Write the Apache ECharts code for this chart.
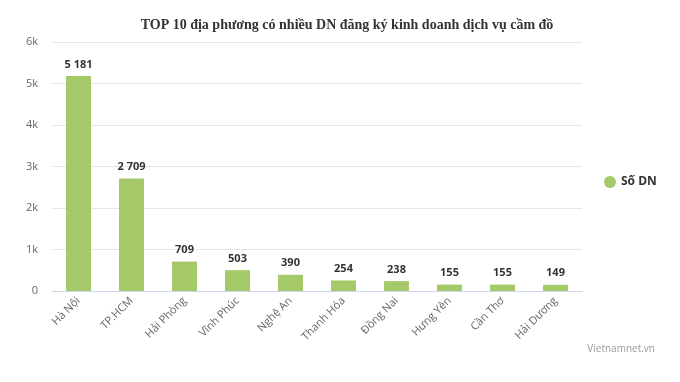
<!DOCTYPE html>
<html><head><meta charset="utf-8">
<script src="https://cdn.jsdelivr.net/npm/echarts@6/dist/echarts.min.js"></script>
<style>html,body{margin:0;padding:0;background:#fff}#c{width:680px;height:382px}</style>
</head><body><div id="c"></div>
<script>
const categories = ["Hà Nội","TP.HCM","Hải Phòng","Vĩnh Phúc","Nghệ An","Thanh Hóa","Đồng Nai","Hưng Yên","Cần Thơ","Hải Dương"];
const values = [5181,2709,709,503,390,254,238,155,155,149];
const seriesName = "Số DN";
const yTicks = ["0","1k","2k","3k","4k","5k","6k"];
const titleText = "TOP 10 địa phương có nhiều DN đăng ký kinh doanh dịch vụ cầm đồ";
const credit = "Vietnamnet.vn";

const fmt = v => String(v).replace(/\B(?=(\d{3})+(?!\d))/g, " ");
const chart = echarts.init(document.getElementById('c'), null, {renderer:'canvas'});
chart.setOption({
  animation:false,
  title:{text:titleText,left:342,textAlign:'center',top:13,
    textStyle:{fontFamily:'Liberation Serif',fontWeight:'bold',fontSize:14,color:'#333'}},
  graphic:[{type:'text',right:25,top:344,style:{text:credit,fill:'#999',fontSize:10,fontFamily:'Open Sans'}}],
  legend:{orient:'vertical',left:599,top:171,icon:'circle',itemWidth:12,itemHeight:12,itemGap:8,
    textStyle:{fontFamily:'Open Sans',fontSize:12,fontWeight:'bold',color:'#333'}},
  grid:{left:52,right:98,top:42,bottom:91,containLabel:false},
  xAxis:{type:'category',data:categories,
    axisLine:{lineStyle:{color:'#ccd6eb'}},axisTick:{show:false},
    axisLabel:{rotate:45,interval:0,color:'#666',fontSize:11,fontFamily:'Open Sans',margin:8}},
  yAxis:{type:'value',min:0,max:6000,interval:1000,
    axisLabel:{formatter:v=>yTicks[v/1000],color:'#666',fontSize:11,fontFamily:'Open Sans',margin:14},
    splitLine:{lineStyle:{color:'#e6e6e6'}},axisLine:{show:false},axisTick:{show:false}},
  series:[{name:seriesName,type:'bar',data:values,barWidth:'47%',
    itemStyle:{color:'#a5c868'},
    label:{show:true,position:'top',distance:6,formatter:p=>fmt(p.value),
      color:'#333',fontWeight:'bold',fontSize:11,fontFamily:'Open Sans'}}]
});
</script></body></html>
